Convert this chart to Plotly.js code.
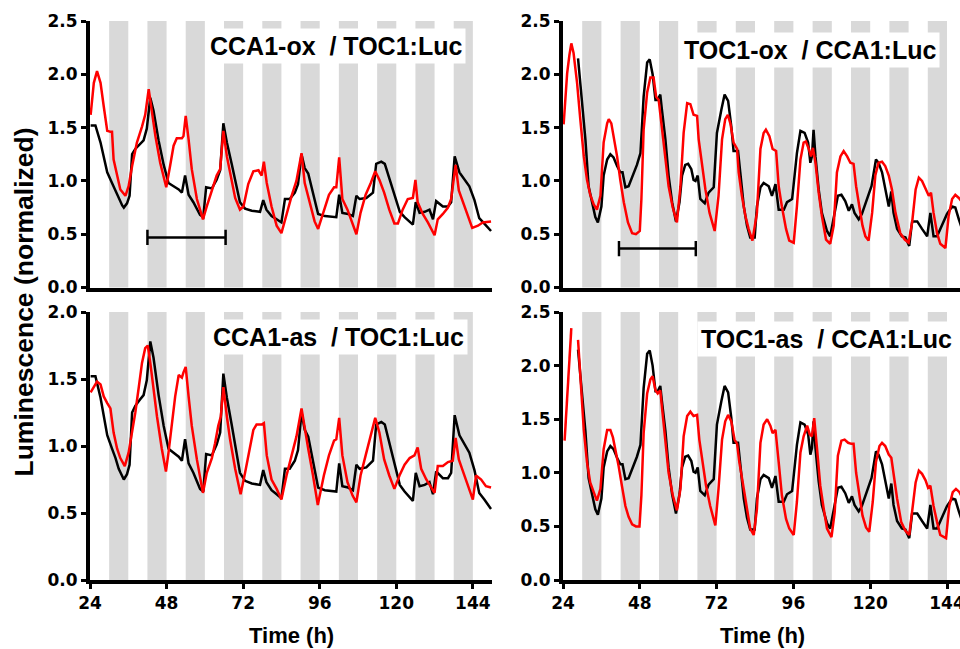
<!DOCTYPE html>
<html>
<head>
<meta charset="utf-8">
<script src="https://cdn.plot.ly/plotly-3.0.1.min.js"></script>
<style>html,body{margin:0;padding:0;background:#fff;}#chart{width:960px;height:649px;}</style>
</head>
<body>
<div id="chart"></div>
<script>
// ---- Data (hours in constant light, normalized luminescence) ----
// Wild-type TOC1:Luc (black, left panels)
const hoursWT_TOC1 = [
  24.2, 25.7, 27.3, 29.4, 30.9, 32.0, 33.0, 34.1, 34.6, 35.6,
  36.4, 37.2, 38.2, 39.8, 40.8, 41.8, 42.9, 43.9, 45.5, 47.1,
  48.6, 50.2, 51.8, 52.8, 53.8, 54.9, 56.4, 58.5, 59.5, 60.4,
  62.2, 63.7, 64.8, 65.8, 66.9, 68.4, 70.0, 71.0, 72.6, 74.7,
  77.3, 78.3, 79.3, 80.9, 82.5, 84.0, 85.1, 86.6, 88.2, 89.2,
  90.3, 91.3, 92.4, 93.9, 95.5, 97.6, 101.2, 102.1, 103.1, 104.9,
  106.4, 107.5, 108.5, 110.6, 112.7, 113.7, 115.3, 116.4, 117.9, 119.5,
  121.1, 122.6, 124.2, 125.2, 126.1, 127.3, 128.9, 130.4, 131.5, 132.5,
  134.6, 136.2, 137.2, 138.3, 139.8, 141.4, 142.9, 144.5, 146.0, 147.6,
  149.7];
const lumWT_TOC1 = [
  1.52, 1.52, 1.36, 1.08, 0.98, 0.91, 0.83, 0.77, 0.75, 0.79,
  0.86, 1.25, 1.30, 1.35, 1.38, 1.49, 1.78, 1.66, 1.38, 1.15,
  0.98, 0.95, 0.92, 0.89, 1.05, 0.87, 0.80, 0.68, 0.66, 0.94,
  0.93, 1.01, 1.10, 1.54, 1.36, 1.16, 0.95, 0.80, 0.74, 0.72,
  0.71, 0.82, 0.73, 0.67, 0.64, 0.61, 0.83, 0.83, 0.89, 0.97,
  1.25, 1.12, 1.07, 0.89, 0.69, 0.67, 0.66, 0.87, 0.70, 0.69,
  0.67, 0.86, 0.83, 0.84, 0.89, 1.16, 1.18, 1.16, 1.01, 0.86,
  0.71, 0.66, 0.62, 0.59, 0.80, 0.70, 0.71, 0.73, 0.64, 0.81,
  0.76, 0.76, 0.80, 1.23, 1.08, 1.01, 0.95, 0.82, 0.65, 0.60,
  0.53];

// CCA1-ox / TOC1:Luc (red, top left)
const hoursCCA1ox = [
  24.2, 25.2, 26.2, 27.3, 28.3, 29.4, 30.4, 30.9, 31.4, 32.5,
  33.5, 35.1, 36.1, 37.2, 38.7, 40.3, 41.3, 42.4, 43.4, 44.5,
  46.0, 47.9, 49.1, 50.2, 51.2, 52.8, 53.3, 54.0, 54.9, 55.9,
  57.5, 59.4, 60.6, 62.2, 63.7, 64.8, 65.8, 66.9, 67.9, 69.5,
  71.0, 72.1, 73.6, 75.2, 76.8, 77.8, 78.5, 79.4, 80.9, 82.5,
  84.0, 85.6, 87.2, 88.7, 90.3, 91.3, 92.9, 94.4, 95.5, 97.3,
  98.9, 100.5, 101.2, 102.1, 103.1, 104.7, 106.1, 107.5, 108.8, 110.4,
  112.0, 113.4, 114.7, 116.2, 117.8, 119.4, 120.5, 122.0, 123.6, 125.2,
  126.0, 126.7, 128.3, 129.9, 132.0, 133.0, 134.6, 136.2, 137.2, 138.6,
  139.6, 140.9, 142.5, 143.8, 145.6, 147.1, 149.7];
const lumCCA1ox = [
  1.62, 1.92, 2.03, 1.92, 1.70, 1.47, 1.46, 1.46, 1.20, 1.05,
  0.92, 0.86, 0.95, 1.14, 1.36, 1.51, 1.62, 1.86, 1.64, 1.42,
  1.17, 0.94, 1.14, 1.33, 1.40, 1.40, 1.42, 1.61, 1.39, 1.11,
  0.83, 0.64, 0.76, 0.92, 1.05, 1.11, 1.47, 1.23, 1.08, 0.84,
  0.73, 0.76, 0.97, 1.09, 1.10, 1.05, 1.18, 0.98, 0.76, 0.58,
  0.51, 0.69, 0.86, 1.00, 1.26, 0.98, 0.80, 0.62, 0.55, 0.73,
  0.87, 0.94, 0.94, 1.22, 0.83, 0.73, 0.61, 0.50, 0.70, 0.87,
  0.98, 1.09, 1.01, 0.89, 0.73, 0.60, 0.60, 0.73, 0.83, 0.84,
  1.01, 0.80, 0.69, 0.61, 0.49, 0.64, 0.69, 0.75, 0.83, 1.15,
  0.91, 0.80, 0.67, 0.56, 0.58, 0.61, 0.62];

// CCA1-as / TOC1:Luc (red, bottom left)
const hoursCCA1as = [
  24.2, 25.2, 26.2, 27.3, 28.3, 29.4, 30.4, 31.4, 32.5, 33.5,
  34.9, 36.1, 37.2, 38.2, 39.3, 40.3, 41.3, 42.1, 42.9, 43.9,
  45.0, 46.5, 47.8, 48.6, 49.6, 50.7, 51.8, 52.8, 53.3, 54.0,
  54.9, 55.9, 57.5, 59.4, 60.6, 62.2, 63.2, 64.2, 65.0, 65.8,
  66.9, 67.9, 69.5, 71.2, 72.6, 74.2, 75.2, 76.2, 77.8, 78.5,
  79.4, 80.9, 82.5, 84.0, 85.6, 87.2, 88.7, 90.3, 91.3, 92.4,
  93.9, 95.4, 97.3, 98.9, 100.5, 101.2, 102.1, 103.1, 104.7, 106.3,
  107.5, 108.8, 110.4, 112.0, 113.4, 114.7, 116.2, 117.8, 119.4, 121.0,
  122.6, 124.2, 125.7, 126.7, 127.8, 129.4, 130.9, 132.0, 133.0, 134.6,
  136.2, 137.7, 138.6, 139.6, 140.9, 142.5, 144.0, 145.0, 146.6, 148.1,
  149.7];
const lumCCA1as = [
  1.40, 1.44, 1.48, 1.46, 1.37, 1.32, 1.28, 1.10, 0.98, 0.91,
  0.85, 0.95, 1.10, 1.25, 1.44, 1.62, 1.73, 1.75, 1.62, 1.42,
  1.22, 0.98, 0.81, 0.95, 1.17, 1.37, 1.53, 1.51, 1.55, 1.59,
  1.37, 1.15, 0.90, 0.65, 0.80, 0.91, 1.02, 1.15, 1.22, 1.44,
  1.22, 1.05, 0.83, 0.64, 0.80, 1.00, 1.12, 1.16, 1.16, 1.17,
  0.93, 0.75, 0.68, 0.60, 0.78, 0.93, 1.07, 1.28, 1.12, 0.98,
  0.78, 0.56, 0.78, 0.93, 1.04, 1.05, 1.21, 0.93, 0.73, 0.63,
  0.58, 0.78, 0.93, 1.07, 1.21, 1.10, 0.90, 0.78, 0.68, 0.78,
  0.86, 0.91, 0.93, 0.99, 0.83, 0.75, 0.69, 0.65, 0.85, 0.85,
  0.88, 0.89, 1.06, 0.90, 0.81, 0.70, 0.60, 0.78, 0.75, 0.70,
  0.69];

// Wild-type CCA1:Luc (black, right panels)
const hoursWT_CCA1 = [
  28.7, 29.9, 31.0, 32.0, 33.1, 34.1, 34.9, 36.0, 36.7, 37.8,
  38.8, 39.8, 40.9, 41.9, 42.6, 43.5, 44.5, 45.8, 47.1, 48.2,
  49.2, 50.3, 51.1, 52.0, 52.9, 53.6, 54.4, 54.9, 56.0, 57.0,
  58.1, 59.3, 60.4, 61.2, 62.2, 63.1, 64.1, 64.8, 65.4, 66.1,
  66.9, 68.3, 69.5, 71.1, 72.1, 73.5, 74.5, 75.6, 76.6, 77.3,
  78.7, 79.4, 80.5, 81.5, 82.5, 83.9, 84.6, 85.7, 86.7, 88.3,
  89.3, 90.4, 91.4, 93.0, 94.0, 95.6, 97.1, 98.2, 99.5, 100.6,
  101.3, 101.8, 102.3, 102.9, 103.9, 104.9, 106.5, 107.5, 108.6, 109.9,
  111.0, 112.2, 113.3, 114.3, 115.1, 116.4, 117.4, 119.0, 120.4, 121.8,
  122.6, 123.7, 124.7, 125.8, 126.6, 127.3, 128.4, 129.9, 131.0, 132.2,
  133.1, 134.7, 136.2, 137.8, 138.8, 139.8, 140.9, 142.5, 144.0, 145.6,
  146.6, 147.7, 148.7];
const lumWT_CCA1 = [
  2.15, 1.76, 1.39, 0.95, 0.80, 0.66, 0.61, 0.76, 1.05, 1.20,
  1.25, 1.22, 1.14, 1.08, 1.08, 0.94, 0.95, 1.05, 1.15, 1.26,
  1.79, 2.11, 2.14, 2.00, 1.76, 1.76, 1.81, 1.67, 1.39, 1.05,
  0.80, 0.62, 0.80, 1.05, 1.15, 1.16, 1.11, 1.01, 1.00, 1.05,
  0.83, 0.79, 0.89, 0.94, 1.45, 1.67, 1.81, 1.75, 1.51, 1.28,
  1.28, 1.08, 0.76, 0.58, 0.47, 0.47, 0.76, 0.94, 0.98, 0.95,
  0.86, 0.97, 0.73, 0.73, 0.80, 0.83, 1.26, 1.47, 1.45, 1.36,
  1.17, 1.23, 1.48, 1.23, 0.92, 0.70, 0.53, 0.48, 0.67, 0.86,
  0.87, 0.81, 0.72, 0.78, 0.70, 0.64, 0.69, 0.83, 0.95, 1.20,
  1.17, 1.08, 0.92, 0.76, 0.90, 0.70, 0.55, 0.48, 0.47, 0.39,
  0.62, 0.62, 0.55, 0.48, 0.70, 0.48, 0.48, 0.58, 0.69, 0.76,
  0.75, 0.64, 0.55];

// TOC1-ox / CCA1:Luc (red, top right)
const hoursTOC1ox = [
  24.2, 25.3, 26.0, 26.6, 27.3, 28.4, 29.4, 30.5, 31.5, 32.5,
  33.6, 34.6, 35.7, 36.7, 37.8, 38.3, 39.1, 39.8, 40.9, 41.9,
  43.0, 44.3, 45.6, 46.8, 48.0, 48.5, 49.2, 50.3, 51.3, 52.3,
  53.1, 53.9, 54.9, 56.0, 57.0, 58.3, 59.6, 60.7, 61.7, 62.8,
  63.8, 64.8, 65.9, 66.4, 67.4, 68.5, 69.8, 71.4, 72.6, 73.7,
  74.7, 75.5, 76.3, 77.3, 78.4, 78.9, 79.9, 81.0, 82.0, 83.2,
  84.6, 85.7, 86.7, 87.4, 88.5, 89.5, 90.6, 91.4, 92.4, 93.7,
  94.7, 96.1, 97.1, 98.2, 99.2, 99.9, 100.8, 101.5, 102.1, 102.9,
  103.9, 104.9, 106.2, 107.5, 108.6, 109.6, 110.7, 111.7, 112.8, 113.8,
  114.8, 115.6, 116.6, 117.6, 118.5, 119.5, 120.6, 121.6, 122.6, 123.7,
  124.7, 125.8, 126.8, 127.9, 129.4, 130.8, 132.0, 133.1, 134.2, 135.2,
  136.2, 137.3, 138.3, 139.0, 139.8, 140.9, 141.9, 143.5, 144.5, 145.6,
  146.6, 147.7, 148.7];
const lumTOC1ox = [
  1.53, 2.01, 2.18, 2.29, 2.20, 1.92, 1.58, 1.23, 1.01, 0.87,
  0.78, 0.73, 0.86, 1.36, 1.54, 1.58, 1.54, 1.42, 1.23, 1.01,
  0.80, 0.61, 0.51, 0.50, 0.53, 0.83, 1.48, 1.83, 1.97, 1.97,
  1.79, 1.76, 1.51, 1.23, 0.95, 0.75, 0.61, 0.95, 1.45, 1.73,
  1.72, 1.62, 1.61, 1.39, 1.14, 0.92, 0.70, 0.53, 0.86, 1.39,
  1.58, 1.62, 1.54, 1.36, 1.30, 1.08, 0.86, 0.67, 0.55, 0.44,
  0.70, 1.30, 1.45, 1.48, 1.42, 1.30, 1.28, 0.95, 0.76, 0.55,
  0.44, 0.42, 0.76, 1.20, 1.36, 1.37, 1.30, 1.23, 1.31, 1.17,
  0.89, 0.67, 0.45, 0.41, 0.58, 1.08, 1.23, 1.28, 1.23, 1.17,
  1.16, 0.95, 0.76, 0.58, 0.48, 0.44, 0.70, 1.05, 1.17, 1.18,
  1.14, 1.05, 0.92, 0.70, 0.51, 0.45, 0.42, 0.61, 0.92, 1.03,
  1.00, 0.92, 0.86, 0.89, 0.70, 0.51, 0.41, 0.37, 0.67, 0.83,
  0.87, 0.84, 0.80];

// TOC1-as / CCA1:Luc (red, bottom right; null = missing reading)
const hoursTOC1as = [
  24.5, 25.3, 26.0, 26.6, 27.6, 28.7, 29.4, 30.5, 31.5, 32.5,
  33.6, 34.6, 35.7, 36.7, 37.8, 38.8, 39.6, 40.4, 41.4, 42.4,
  43.5, 44.5, 45.6, 46.8, 47.9, 48.5, 49.2, 50.3, 51.3, 52.0,
  52.9, 53.6, 54.4, 54.9, 56.0, 57.0, 58.3, 59.6, 60.7, 61.7,
  62.8, 63.8, 64.8, 65.9, 66.6, 67.6, 68.7, 70.0, 71.6, 72.6,
  73.7, 74.7, 75.6, 76.6, 77.6, 78.4, 79.1, 80.5, 81.5, 82.5,
  83.6, 84.6, 85.7, 86.7, 87.8, 88.8, 89.5, 90.4, 91.4, 92.4,
  93.7, 94.7, 96.1, 97.1, 98.2, 99.2, 100.3, 101.1, 101.8, 102.5,
  103.4, 104.4, 105.5, 106.5, 107.9, 108.9, 109.9, 111.0, 112.0, 113.1,
  114.1, 114.8, 115.6, 116.6, 117.6, 118.7, 119.7, 120.8, 121.8, 122.9,
  123.7, 124.7, 125.8, 126.6, 127.3, 128.4, 129.7, 131.0, 132.2, 133.3,
  134.2, 135.2, 136.2, 137.3, 138.1, 138.8, 139.8, 140.9, 141.9, 143.7,
  144.7, 145.8, 146.8, 147.9, 148.7];
const lumTOC1as = [
  1.30, 1.71, 2.15, 2.35, null, 2.24, 1.90, 1.40, 1.10, 0.91,
  0.82, 0.74, 0.85, 1.22, 1.40, 1.40, 1.33, 1.22, 1.06, 0.88,
  0.69, 0.59, 0.52, 0.50, 0.50, 0.79, 1.37, 1.74, 1.87, 1.90,
  1.77, 1.74, 1.77, 1.62, 1.31, 1.00, 0.79, 0.65, 0.85, 1.34,
  1.53, 1.57, 1.53, 1.54, 1.31, 1.10, 0.88, 0.69, 0.51, 0.85,
  1.31, 1.48, 1.54, 1.48, 1.31, 1.27, 1.10, 0.85, 0.65, 0.48,
  0.42, 0.66, 1.28, 1.45, 1.50, 1.44, 1.37, 1.40, 1.10, 0.79,
  0.57, 0.48, 0.42, 0.73, 1.19, 1.34, 1.44, 1.36, 1.34, 1.51,
  1.22, 0.88, 0.66, 0.48, 0.40, 0.63, 1.16, 1.30, 1.31, 1.28,
  1.27, 1.27, 1.00, 0.79, 0.60, 0.49, 0.45, 0.73, 1.10, 1.25,
  1.28, 1.25, 1.17, 1.14, 0.97, 0.76, 0.54, 0.46, 0.42, 0.69,
  0.91, 1.02, 0.99, 0.93, 0.86, 0.88, 0.69, 0.54, 0.42, 0.39,
  0.69, 0.82, 0.85, 0.82, 0.77];

// Subjective-night bars and period scale bars
const nightStarts = [30, 42, 54, 66, 78, 90, 102, 114, 126, 138];
const nightHours = 6;
const periodBarLeftX = [42, 66.5];
const periodBarLeftY = [0.47, 0.47];
const periodBarRightX = [41.5, 65.5];
const periodBarRightY = [0.365, 0.365];

// Ticks and labels
const xTicks = [24, 48, 72, 96, 120, 144];
const yTicksTall = [0, 0.5, 1.0, 1.5, 2.0, 2.5];
const yTicksShort = [0, 0.5, 1.0, 1.5, 2.0];
const panelLabels = [
  'CCA1-ox\u00a0\u00a0/ TOC1:Luc',
  'TOC1-ox\u00a0\u00a0/ CCA1:Luc',
  'CCA1-as\u00a0\u00a0/ TOC1:Luc',
  'TOC1-as\u00a0\u00a0/ CCA1:Luc'
];
const yTitle = 'Luminescence (normalized)';
const xTitle = 'Time (h)';

// ---- Build figure ----
const W = 960, H = 649;
const BLACK = '#000000', RED = '#ff0000';
function line(x, y, ax, color) {
  return {x: x, y: y, xaxis: ax[0], yaxis: ax[1], type: 'scatter', mode: 'lines',
          connectgaps: false, line: {color: color, width: 2.5}, hoverinfo: 'skip'};
}
function scaleBar(x, y, ax) {
  return {x: x, y: y, xaxis: ax[0], yaxis: ax[1], type: 'scatter', mode: 'lines+markers',
          line: {color: BLACK, width: 2.5},
          marker: {symbol: 'line-ns-open', size: 11, color: BLACK, line: {width: 2.5, color: BLACK}},
          hoverinfo: 'skip'};
}
const P1 = ['x', 'y'], P2 = ['x2', 'y2'], P3 = ['x3', 'y3'], P4 = ['x4', 'y4'];
const data = [
  line(hoursWT_TOC1, lumWT_TOC1, P1, BLACK),
  line(hoursCCA1ox, lumCCA1ox, P1, RED),
  line(hoursWT_CCA1, lumWT_CCA1, P2, BLACK),
  line(hoursTOC1ox, lumTOC1ox, P2, RED),
  line(hoursWT_TOC1, lumWT_TOC1, P3, BLACK),
  line(hoursCCA1as, lumCCA1as, P3, RED),
  line(hoursWT_CCA1, lumWT_CCA1, P4, BLACK),
  line(hoursTOC1as, lumTOC1as, P4, RED),
  scaleBar(periodBarLeftX, periodBarLeftY, P1),
  scaleBar(periodBarRightX, periodBarRightY, P2)
];

const tickFont = {family: 'DejaVu Sans, Verdana, sans-serif', size: 17, color: BLACK, weight: 'bold'};
const leftDom = [90 / W, 492 / W];
const rightDom = [563 / W, 1];
const topDom = [1 - 287.5 / H, 1 - 21 / H];
const botDom = [1 - 580 / H, 1 - 312 / H];
function xax(dom, range, anchor, labels) {
  return {domain: dom, range: range, anchor: anchor, showgrid: false, zeroline: false,
          showline: true, linecolor: BLACK, linewidth: 4,
          ticks: labels ? 'outside' : '', ticklen: 5, tickwidth: 3, tickcolor: BLACK,
          tickvals: xTicks, showticklabels: labels, tickfont: tickFont,
          ticklabeloverflow: 'allow', fixedrange: true};
}
function yax(dom, range, anchor, vals) {
  return {domain: dom, range: range, anchor: anchor, showgrid: false, zeroline: false,
          showline: true, linecolor: BLACK, linewidth: 4,
          ticks: 'outside', ticklen: 5, tickwidth: 3, tickcolor: BLACK,
          tickvals: vals, tickformat: '.1f', tickfont: tickFont,
          ticklabeloverflow: 'allow', fixedrange: true};
}
const rightRange = [24, 24 + (W - 563) / 3.2];
const shapes = [];
[P1, P2, P3, P4].forEach(function (p) {
  nightStarts.forEach(function (s) {
    shapes.push({type: 'rect', xref: p[0], yref: p[1] + ' domain', x0: s, x1: s + nightHours,
                 y0: 0, y1: 1, fillcolor: '#d9d9d9', line: {width: 0}, layer: 'below'});
  });
});
const labFont = {family: 'Liberation Sans, Arial, sans-serif', size: 25, color: BLACK, weight: 'bold'};
function panelLabel(text, xpx, ypx) {
  return {text: text, xref: 'paper', yref: 'paper', x: xpx / W, y: 1 - ypx / H,
          xanchor: 'center', yanchor: 'middle', showarrow: false,
          bgcolor: '#ffffff', borderpad: 3, font: labFont};
}
const titleFont = {family: 'Liberation Sans, Arial, sans-serif', size: 22, color: BLACK, weight: 'bold'};
const annotations = [
  panelLabel(panelLabels[0], 336, 46),
  panelLabel(panelLabels[1], 810, 49.5),
  panelLabel(panelLabels[2], 338, 337),
  panelLabel(panelLabels[3], 826, 339),
  {text: yTitle, xref: 'paper', yref: 'paper', x: 23 / W, y: 1 - 302.5 / H, textangle: -90,
   xanchor: 'center', yanchor: 'middle', showarrow: false,
   font: {family: 'Liberation Sans, Arial, sans-serif', size: 26.5, color: BLACK, weight: 'bold'}},
  {text: xTitle, xref: 'paper', yref: 'paper', x: 291 / W, y: 1 - 635.5 / H,
   xanchor: 'center', yanchor: 'middle', showarrow: false, font: titleFont},
  {text: xTitle, xref: 'paper', yref: 'paper', x: 762 / W, y: 1 - 635.5 / H,
   xanchor: 'center', yanchor: 'middle', showarrow: false, font: titleFont}
];

const layout = {
  width: W, height: H, margin: {l: 0, r: 0, t: 0, b: 0, pad: 0},
  paper_bgcolor: '#ffffff', plot_bgcolor: '#ffffff', showlegend: false,
  xaxis: xax(leftDom, [24, 150], 'y', false),
  yaxis: yax(topDom, [0, 2.5], 'x', yTicksTall),
  xaxis2: xax(rightDom, rightRange, 'y2', false),
  yaxis2: yax(topDom, [0, 2.5], 'x2', yTicksTall),
  xaxis3: xax(leftDom, [24, 150], 'y3', true),
  yaxis3: yax(botDom, [0, 2.0], 'x3', yTicksShort),
  xaxis4: xax(rightDom, rightRange, 'y4', true),
  yaxis4: yax(botDom, [0, 2.5], 'x4', yTicksTall),
  shapes: shapes,
  annotations: annotations
};
Plotly.newPlot('chart', data, layout, {staticPlot: true, displayModeBar: false});
</script>
</body>
</html>
